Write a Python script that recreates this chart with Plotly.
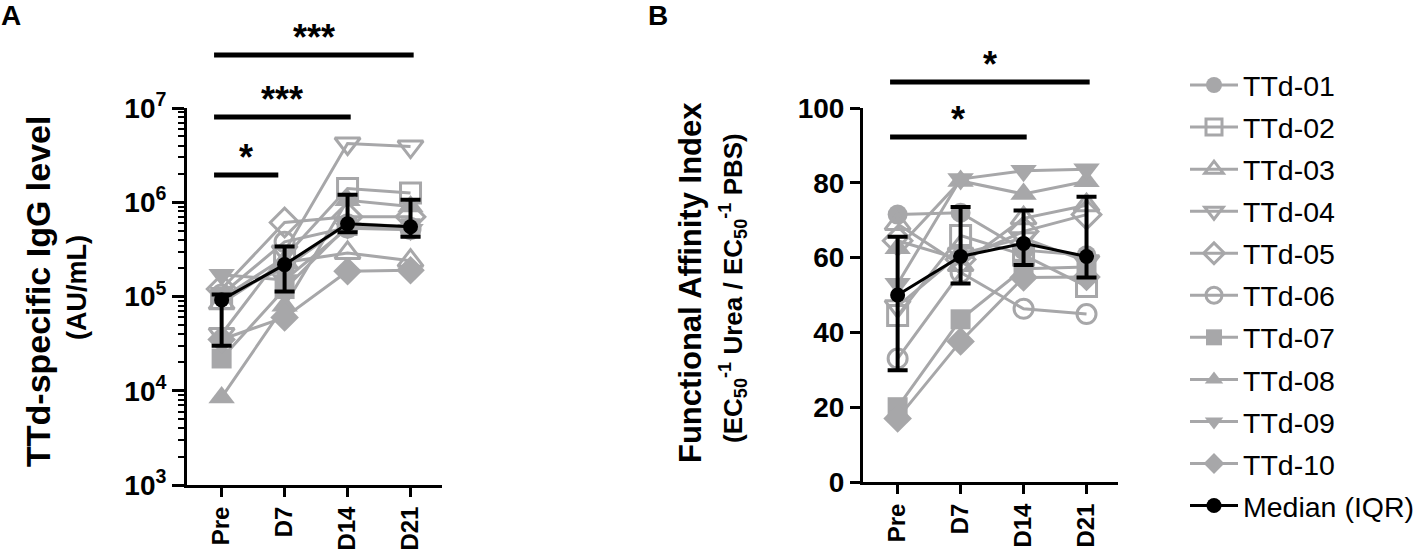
import plotly.graph_objects as go

# ---------------- data ----------------
CATEGORIES = ["Pre", "D7", "D14", "D21"]
SUBJECTS = ["TTd-01", "TTd-02", "TTd-03", "TTd-04", "TTd-05",
            "TTd-06", "TTd-07", "TTd-08", "TTd-09", "TTd-10"]

# Panel A: TTd-specific IgG level (AU/mL)
IGG_01 = [1.0e5, 2.0e5, 6.0e5, 5.5e5]
IGG_02 = [9.5e4, 2.6e5, 1.4e6, 1.25e6]
IGG_03 = [8.5e4, 2.3e5, 2.9e5, 2.4e5]
IGG_04 = [4.0e4, 3.0e5, 4.2e6, 3.9e6]
IGG_05 = [1.2e5, 6.1e5, 7.0e5, 7.0e5]
IGG_06 = [1.05e5, 3.8e5, 5.4e5, 5.2e5]
IGG_07 = [2.2e4, 1.2e5, 5.6e5, 5.3e5]
IGG_08 = [8.5e3, 8.0e4, 1.05e6, 9.0e5]
IGG_09 = [1.7e5, 1.5e5, 5.3e5, 5.1e5]
IGG_10 = [3.5e4, 6.0e4, 1.85e5, 1.9e5]
IGG_MEDIAN = [9.2e4, 2.18e5, 5.9e5, 5.5e5]
IGG_Q1 = [3.0e4, 1.13e5, 4.8e5, 4.3e5]
IGG_Q3 = [1.05e5, 3.4e5, 1.2e6, 1.06e6]

# Panel B: Functional affinity index
AFF_01 = [71.5, 72.0, 62.0, 60.6]
AFF_02 = [44.5, 65.9, 60.7, 52.3]
AFF_03 = [69.0, 58.0, 70.5, 74.0]
AFF_04 = [47.0, 61.0, 65.2, 59.0]
AFF_05 = [64.5, 59.5, 67.0, 71.5]
AFF_06 = [33.0, 56.0, 46.3, 44.9]
AFF_07 = [20.0, 43.5, 57.0, 57.5]
AFF_08 = [62.5, 80.5, 77.0, 80.4]
AFF_09 = [53.0, 81.0, 83.2, 83.6]
AFF_10 = [17.0, 37.6, 54.7, 54.8]
AFF_MEDIAN = [50.0, 60.3, 63.8, 60.3]
AFF_Q1 = [29.9, 53.1, 58.0, 54.7]
AFF_Q3 = [65.6, 73.5, 72.6, 76.3]

# significance comparisons: (from, to, label)
SIG_A = [("Pre", "D7", "*"), ("Pre", "D14", "***"), ("Pre", "D21", "***")]
SIG_B = [("Pre", "D14", "*"), ("Pre", "D21", "*")]

IGG = [IGG_01, IGG_02, IGG_03, IGG_04, IGG_05, IGG_06, IGG_07, IGG_08, IGG_09, IGG_10]
AFF = [AFF_01, AFF_02, AFF_03, AFF_04, AFF_05, AFF_06, AFF_07, AFF_08, AFF_09, AFF_10]

# ---------------- style ----------------
GRAY = "#a7a7a9"
FONT = "Arial, 'Liberation Sans', sans-serif"
SYMBOLS = ["circle", "square-open", "triangle-up-open", "triangle-down-open", "diamond-open",
           "circle-open", "square", "triangle-up", "triangle-down", "diamond"]
SIZES = [20, 20, 22, 22, 22, 19, 20, 23, 23, 22]

W, H = 1417, 551
def px_x(p):
    return p / W
def px_y(p):
    return 1 - p / H

fig = go.Figure()

for i, name in enumerate(SUBJECTS):
    open_sym = SYMBOLS[i].endswith("open")
    marker = dict(symbol=SYMBOLS[i], size=SIZES[i], color=GRAY,
                  line=dict(width=3 if open_sym else 0, color=GRAY))
    fig.add_trace(go.Scatter(x=CATEGORIES, y=IGG[i], mode="lines+markers", name=name,
                             legendgroup=name, line=dict(color=GRAY, width=3),
                             marker=marker, cliponaxis=False, xaxis="x", yaxis="y"))
    fig.add_trace(go.Scatter(x=CATEGORIES, y=AFF[i], mode="lines+markers", name=name,
                             legendgroup=name, showlegend=False, line=dict(color=GRAY, width=3),
                             marker=marker, cliponaxis=False, xaxis="x2", yaxis="y2"))

def med_trace(med, q1, q3, xa, ya, show):
    return go.Scatter(
        x=CATEGORIES, y=med, mode="lines+markers", name="Median (IQR)",
        legendgroup="median", showlegend=show,
        line=dict(color="black", width=3),
        marker=dict(symbol="circle", size=15, color="black"),
        error_y=dict(type="data", symmetric=False,
                     array=[b - a for a, b in zip(med, q3)],
                     arrayminus=[a - b for a, b in zip(med, q1)],
                     color="black", thickness=4, width=10),
        cliponaxis=False, xaxis=xa, yaxis=ya)

fig.add_trace(med_trace(IGG_MEDIAN, IGG_Q1, IGG_Q3, "x", "y", True))
fig.add_trace(med_trace(AFF_MEDIAN, AFF_Q1, AFF_Q3, "x2", "y2", False))

# ---------------- axes ----------------
TICKFONT = dict(size=28, color="black", family=FONT)
XTICKFONT = dict(size=24, color="black", family=FONT)
common_x = dict(type="category", range=[-0.55, 3.5], tickvals=CATEGORIES,
                ticktext=["<b>%s</b>" % c for c in CATEGORIES], tickangle=-90,
                ticks="outside", ticklen=9, tickwidth=3, tickcolor="black",
                showline=True, linewidth=3, linecolor="black", showgrid=False,
                zeroline=False, automargin=False, tickfont=XTICKFONT)

minor_vals = [m * 10 ** e for e in range(3, 7) for m in range(2, 10)]
fig.update_layout(
    xaxis=dict(domain=[px_x(187), px_x(442)], anchor="y", **common_x),
    xaxis2=dict(domain=[px_x(863), px_x(1118)], anchor="y2", **common_x),
    yaxis=dict(domain=[px_y(485), px_y(108)], anchor="x", type="log", range=[3, 7],
               tickvals=[1e3, 1e4, 1e5, 1e6, 1e7],
               ticktext=["<b>10<sup>%d</sup></b>" % k for k in range(3, 8)],
               ticks="outside", ticklen=12, tickwidth=3, tickcolor="black",
               minor=dict(tickmode="array", tickvals=minor_vals, ticks="outside",
                          ticklen=6, tickwidth=2, tickcolor="black"),
               showline=True, linewidth=3, linecolor="black", showgrid=False,
               zeroline=False, automargin=False, tickfont=TICKFONT),
    yaxis2=dict(domain=[px_y(482), px_y(108)], anchor="x2", range=[0, 100],
                tickvals=[0, 20, 40, 60, 80, 100],
                ticktext=["<b>%d</b>" % v for v in [0, 20, 40, 60, 80, 100]],
                ticks="outside", ticklen=10, tickwidth=3, tickcolor="black",
                showline=True, linewidth=3, linecolor="black", showgrid=False,
                zeroline=False, automargin=False, tickfont=TICKFONT),
)

# ---------------- significance bars ----------------
shapes = []
annotations = []
def add_sig(sigs, xref, yref, levels):
    for (a, b, lab), lv in zip(sigs, levels):
        x0 = CATEGORIES.index(a) - 0.12
        x1 = CATEGORIES.index(b) + (0.05 if CATEGORIES.index(b) > 1 else -0.1)
        shapes.append(dict(type="line", xref=xref, yref=yref, x0=x0, x1=x1, y0=lv, y1=lv,
                           line=dict(color="black", width=5)))
        annotations.append(dict(xref=xref, yref=yref, x=(x0 + x1) / 2, y=lv,
                                text="<b>%s</b>" % lab,
                                showarrow=False, yanchor="bottom", yshift=-5,
                                font=dict(size=36, color="black", family=FONT)))

add_sig(SIG_A, "x", "y domain", [0.822, 0.976, 1.1406])
add_sig(SIG_B, "x2", "y2 domain", [0.9225, 1.0695])

# ---------------- titles / labels ----------------
def text(xp, yp, s, size, angle=0, bold=True):
    annotations.append(dict(xref="paper", yref="paper", x=px_x(xp), y=px_y(yp),
                            text=("<b>%s</b>" % s) if bold else s, showarrow=False,
                            textangle=angle, xanchor="center", yanchor="middle",
                            font=dict(size=size, color="black", family=FONT)))

text(11, 15, "A", 28)
text(658, 15, "B", 28)
text(38, 292, "TTd-specific IgG level", 34, -90)
text(77, 288, "(AU/mL)", 27, -90)
text(690, 283, "Functional Affinity Index", 31, -90)
text(733, 288, "(EC<sub>50</sub><sup>-1</sup> Urea / EC<sub>50</sub><sup>-1</sup> PBS)", 26, -90)

fig.update_layout(
    width=W, height=H, margin=dict(l=0, r=0, t=0, b=0, autoexpand=False),
    paper_bgcolor="white", plot_bgcolor="white",
    shapes=shapes, annotations=annotations,
    showlegend=True,
    legend=dict(x=px_x(1185), y=px_y(60), xanchor="left", yanchor="top",
                traceorder="grouped", tracegroupgap=2, itemwidth=48,
                font=dict(size=28.5, color="black", family=FONT),
                bgcolor="rgba(0,0,0,0)"),
    font=dict(family=FONT, color="black"),
)

fig.write_html("out.html", config={"displayModeBar": False},
               post_script="document.body.style.margin='0px';")
